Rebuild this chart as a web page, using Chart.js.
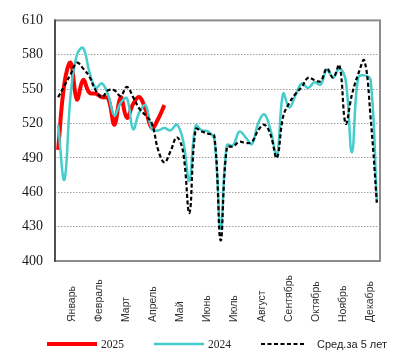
<!DOCTYPE html>
<html>
<head>
<meta charset="utf-8">
<script src="https://cdn.jsdelivr.net/npm/chart.js@4"></script>
<style>
  html, body { margin: 0; padding: 0; background: #fff; }
  #wrap { position: relative; width: 403px; height: 363px; }
</style>
</head>
<body>
<div id="wrap"><canvas id="c" width="403" height="363"></canvas></div>
<script>
// ---- data ----
const weeks = ['1','2','3','4','5','6','7','8','9','10','11','12','13','14','15','16','17','18','19','20','21','22','23','24','25','26',
               '27','28','29','30','31','32','33','34','35','36','37','38','39','40','41','42','43','44','45','46','47','48','49','50','51','52'];
const months = ['Январь','Февраль','Март','Апрель','Май','Июнь','Июль','Август','Сентябрь','Октябрь','Ноябрь','Декабрь'];
const yTicks = [400, 430, 460, 490, 520, 550, 580, 610];

const series2025 = [497, 555, 573, 541, 558, 547, 546, 543, 542, 519, 543, 525, 537, 543, 532, 516, 524, 536];
const series2024 = [519, 471, 545, 580, 586, 565, 551, 555, 545, 527, 538, 542, 515, 530, 536, 515, 514, 516,
                    514, 519, 505, 470, 518, 514, 513, 506, 428, 501, 501, 513, 508, 502, 520, 528, 514, 492,
                    546, 534, 545, 555, 551, 556, 554, 567, 560, 568, 558, 495, 560, 562, 558, 451];
const seriesAvg5 = [543, 553, 563, 573, 568, 561, 549, 543, 549, 549, 544, 552, 543, 533, 527, 520, 497, 486,
                    496, 508, 495, 442, 515, 513, 511, 509, 418, 499, 500, 504, 503, 504, 514, 519, 510, 490,
                    526, 538, 546, 552, 560, 558, 557, 568, 560, 571, 520, 545, 563, 575, 525, 451];

const legendItems = [
  { text: '2025', color: '#ff0000', width: 4, dash: [], font: '11.5px "Liberation Serif"' },
  { text: '2024', color: '#45cccc', width: 2.5, dash: [], font: '11.5px "Liberation Serif"' },
  { text: 'Сред.за 5 лет', color: '#000000', width: 2.2, dash: [4, 2.5], font: '11px "Liberation Sans"' }
];

const frame = {
  id: 'frame',
  beforeDatasetsDraw(chart) {
    const a = chart.chartArea, ctx = chart.ctx;
    ctx.save();
    ctx.strokeStyle = '#8c8c8c';
    ctx.lineWidth = 2;
    ctx.strokeRect(a.left, a.top, a.right - a.left, a.bottom - a.top);
    ctx.beginPath();
    ctx.strokeStyle = '#505050';
    ctx.moveTo(a.left, a.top - 1);
    ctx.lineTo(a.left, a.bottom + 1);
    ctx.stroke();
    ctx.restore();
  }
};

const monthLabels = {
  id: 'monthLabels',
  afterDraw(chart) {
    const ctx = chart.ctx, xs = chart.scales.x;
    ctx.save();
    ctx.fillStyle = '#333';
    ctx.font = '10.5px "Liberation Sans"';
    ctx.textAlign = 'left';
    ctx.textBaseline = 'middle';
    months.forEach((m, i) => {
      const v = (i + 0.5) * weeks.length / months.length - 0.5;
      const x = xs.getPixelForValue(v) + 3.5;
      ctx.save();
      ctx.translate(x, 322);
      ctx.rotate(-Math.PI / 2);
      ctx.fillText(m, 0, 0);
      ctx.restore();
    });
    ctx.restore();
  }
};

const customLegend = {
  id: 'customLegend',
  afterDraw(chart) {
    const ctx = chart.ctx;
    const starts = [47, 154, 261];
    const y = 344;
    ctx.save();
    legendItems.forEach((it, i) => {
      const x0 = starts[i];
      ctx.beginPath();
      ctx.setLineDash(it.dash);
      ctx.strokeStyle = it.color;
      ctx.lineWidth = it.width;
      ctx.moveTo(x0, y);
      ctx.lineTo(x0 + (i === 2 ? 43 : 50), y);
      ctx.stroke();
      ctx.setLineDash([]);
      ctx.fillStyle = '#222';
      ctx.font = it.font;
      ctx.textAlign = 'left';
      ctx.textBaseline = 'middle';
      ctx.fillText(it.text, x0 + (i === 2 ? 56 : 54), y + 1);
    });
    ctx.restore();
  }
};

new Chart(document.getElementById('c'), {
  type: 'line',
  data: {
    labels: weeks,
    datasets: [
      { label: '2025', data: series2025, borderColor: '#ff0000', borderWidth: 4, tension: 0.4, pointRadius: 0, fill: false, order: 2 },
      { label: '2024', data: series2024, borderColor: '#45cccc', borderWidth: 2.5, tension: 0.4, pointRadius: 0, fill: false, order: 1 },
      { label: 'Сред.за 5 лет', data: seriesAvg5, borderColor: '#000000', borderWidth: 2.2, borderDash: [4, 2.5], tension: 0.4, pointRadius: 0, fill: false, order: 0 }
    ]
  },
  options: {
    responsive: false,
    animation: false,
    layout: { padding: { left: 0, top: 20, right: 23, bottom: 102 } },
    plugins: { legend: { display: false }, tooltip: { enabled: false } },
    scales: {
      x: {
        type: 'category',
        offset: true,
        ticks: { display: false },
        grid: { display: false, drawTicks: false },
        border: { display: false },
        afterFit(s) { s.height = 0; }
      },
      y: {
        min: 400, max: 610,
        afterBuildTicks(s) { s.ticks = yTicks.map(v => ({ value: v })); },
        afterFit(s) { s.width = 55; },
        ticks: { padding: 12, color: '#1a1a1a', font: { family: '"Liberation Serif"', size: 14 } },
        grid: {
          drawTicks: false,
          color: (c) => (c.tick && (c.tick.value === 400 || c.tick.value === 610)) ? 'rgba(0,0,0,0)' : '#a0a0a0',
          lineWidth: 1
        },
        border: { display: false, dash: [1.5, 1.5] }
      }
    }
  },
  plugins: [frame, monthLabels, customLegend]
});
</script>
</body>
</html>
